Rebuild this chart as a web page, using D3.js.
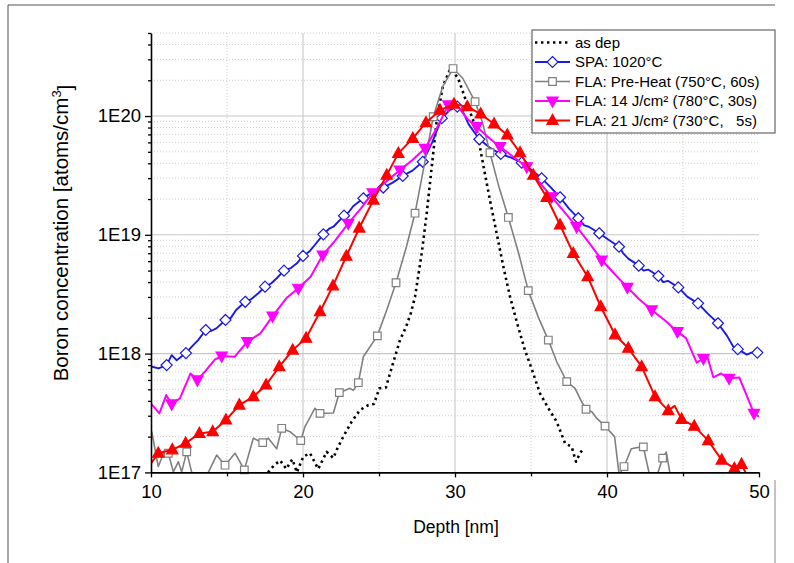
<!DOCTYPE html>
<html><head><meta charset="utf-8">
<script src="https://cdn.jsdelivr.net/npm/d3@7"></script>
<style>
body{margin:0;background:#fff}
svg{display:block;font-family:Arial,"Liberation Sans",sans-serif}
</style>
</head><body>
<svg id="c" width="794" height="563"></svg>
<script>
// ---------------- DATA ----------------
const xMajorTicks = [10, 20, 30, 40, 50];
const xMinorTicks = [15, 25, 35, 45];
const yMajorTicks = [1e17, 1e18, 1e19, 1e20];
const yTickLabels = ["1E17", "1E18", "1E19", "1E20"];
const xDomain = [10, 50];
const yDomain = [1e17, 5e20];
const xTitle = "Depth [nm]";
const yTitle = "Boron concentration [atoms/cm";
const yTitleSup = "3";
const yTitleEnd = "]";
const seriesNames = ["as dep", "SPA: 1020°C", "FLA: Pre-Heat (750°C, 60s)",
  "FLA: 14 J/cm² (780°C, 30s)", "FLA: 21 J/cm² (730°C,   5s)"];

const asDep = [[17.7,1.0e17],[18.1,1.15e17],[18.5,1.26e17],[18.9,1.07e17],[19.3,1.29e17],[19.6,1.0e17],
 [20.02,1.36e17],[20.46,1.45e17],[21.0,1.07e17],[21.56,1.49e17],[22.0,1.32e17],[22.22,1.55e17],[22.65,2.0e17],
 [23.2,2.67e17],[23.75,3.35e17],[24.3,3.69e17],[24.67,3.77e17],[25.02,5.1e17],[25.46,5.2e17],[25.72,6.8e17],
 [26.05,9.4e17],[26.38,1.3e18],[26.78,1.68e18],[27.09,2.18e18],[27.37,3.01e18],[27.81,6.98e18],[28.14,1.52e19],
 [28.47,3.74e19],[28.8,9.25e19],[29.2,1.78e20],[29.7,2.51e20],[30.2,2.09e20],[30.8,1.26e20],[31.43,7.62e19],
 [31.88,3.74e19],[32.3,1.96e19],[32.74,1.03e19],[33.18,5.4e18],[33.62,3.01e18],[34.1,1.78e18],[34.6,1.07e18],
 [35.1,7.1e17],[35.59,4.63e17],[36.14,3.47e17],[36.69,2.67e17],[37.24,1.76e17],[37.68,1.64e17],[37.96,1.23e17],
 [38.22,1.45e17],[38.45,1.58e17]];

const spa = [[10.0,7.8e17],[10.5,7.5e17],[11.03,8.0e17],[11.36,9.7e17],[11.69,8.8e17],[12.3,1.01e18],[12.7,1.15e18],
 [13.1,1.3e18],[13.6,1.58e18],[13.95,1.55e18],[14.3,1.63e18],[14.9,1.92e18],[15.25,2.0e18],[15.6,2.33e18],
 [16.2,2.73e18],[16.6,2.88e18],[17.06,3.22e18],[17.5,3.66e18],[17.9,3.89e18],[18.27,4.31e18],[18.75,4.99e18],
 [19.2,5.25e18],[19.6,5.75e18],[20.0,6.64e18],[20.4,7.2e18],[20.67,7.9e18],[21.34,1.01e19],[21.7,1.12e19],
 [22.0,1.17e19],[22.7,1.45e19],[23.0,1.55e19],[23.3,1.74e19],[23.97,2.03e19],[24.6,2.29e19],[25.28,2.5e19],
 [25.9,2.75e19],[26.56,3.13e19],[27.2,3.47e19],[27.88,4.12e19],[28.5,6.0e19],[29.13,9.6e19],[29.65,1.12e20],
 [30.15,1.2e20],[30.5,1.1e20],[30.9,8.5e19],[31.6,6.37e19],[32.3,5.4e19],[33.01,4.79e19],[33.7,4.47e19],
 [34.39,4.05e19],[35.0,3.55e19],[35.7,2.99e19],[36.3,2.51e19],[36.91,2.07e19],[37.5,1.66e19],[38.11,1.38e19],
 [38.5,1.2e19],[38.8,1.17e19],[39.49,1.03e19],[40.1,9.1e18],[40.79,7.94e18],[41.1,6.9e18],[41.4,6.3e18],
 [42.09,5.5e18],[42.4,5.0e18],[42.7,5.1e18],[43.38,4.5e18],[43.7,4.0e18],[44.0,4.1e18],[44.69,3.61e18],
 [45.3,3.0e18],[45.99,2.65e18],[46.6,2.19e18],[47.3,1.8e18],[47.9,1.41e18],[48.3,1.15e18],[48.6,1.09e18],
 [49.2,9.8e17],[49.5,1.02e18],[49.89,1.02e18],[50.0,9.8e17]];
const spaMarkDepths = [11.03,12.3,13.6,14.9,16.2,17.5,18.75,20.0,21.34,22.7,23.97,25.28,26.56,27.88,29.13,30.15,
 31.6,33.01,34.39,35.7,36.91,38.11,39.49,40.79,42.09,43.38,44.69,45.99,47.3,48.6,49.89];

const preHeat = [[10.05,2.2e17],[10.48,1.12e17],[10.92,1.55e17],[11.14,1.45e17],[11.47,1.01e17],[11.8,1.23e17],
 [12.02,1.01e17],[12.35,1.49e17],[12.68,1.0e17],[13.0,8.5e16],[13.6,8.0e16],[13.77,1.0e17],[14.32,1.4e17],
 [14.87,1.15e17],[15.53,1.45e17],[16.14,1.05e17],[16.73,1.94e17],[17.35,1.78e17],[17.72,1.94e17],[18.27,1.58e17],
 [18.6,2.35e17],[19.14,2.2e17],[19.85,1.85e17],[20.13,2.43e17],[20.79,3.47e17],[21.12,3.14e17],[22.0,3.16e17],
 [22.39,4.69e17],[23.09,5.1e17],[23.31,4.9e17],[23.64,5.69e17],[23.97,9.4e17],[24.89,1.41e18],[25.51,2.33e18],
 [26.12,3.95e18],[26.8,7.9e18],[27.37,1.52e19],[28.0,4.0e19],[28.57,9.86e19],[29.2,1.78e20],[29.87,2.51e20],
 [30.5,2.09e20],[31.32,1.32e20],[31.8,8.9e19],[32.3,4.91e19],[32.9,2.51e19],[33.51,1.4e19],[34.2,6.9e18],
 [34.82,3.39e18],[35.5,2.0e18],[36.14,1.3e18],[36.7,8.5e17],[37.35,5.81e17],[37.9,5.1e17],[38.3,4.0e17],
 [38.62,3.4e17],[39.0,3.24e17],[39.3,2.88e17],[39.87,2.45e17],[40.5,2.0e17],[40.8,9.5e16],[41.12,1.12e17],
 [41.6,1.58e17],[42.0,1.62e17],[42.39,1.64e17],[42.8,9.5e16],[43.3,9.5e16],[43.66,1.32e17],[43.9,1.48e17],
 [44.2,8.9e16],[44.9,7.0e16]];
const preHeatMarkDepths = [11.14,12.35,13.6,14.87,16.14,17.35,18.6,19.85,21.12,22.39,23.64,24.89,26.12,27.37,
 28.57,29.87,31.32,32.3,33.51,34.82,36.14,37.35,38.62,39.87,41.12,42.39,43.66,44.9];

const fla14 = [[10.0,3.8e17],[10.55,3.14e17],[11.0,4.47e17],[11.36,3.77e17],[11.9,4.2e17],[12.6,6.8e17],[13.05,6.0e17],
 [13.6,7.2e17],[14.2,8.9e17],[14.65,9.55e17],[15.5,9.4e17],[16.34,1.26e18],[17.2,1.48e18],[18.0,2.07e18],
 [18.9,2.92e18],[19.69,3.55e18],[20.5,4.44e18],[21.3,6.76e18],[22.1,8.9e18],[22.98,1.25e19],[23.8,1.66e19],
 [24.59,2.26e19],[25.5,2.82e19],[26.38,3.51e19],[27.2,4.27e19],[28.03,5.35e19],[28.8,7.9e19],[29.56,1.24e20],
 [30.2,1.2e20],[30.8,9.5e19],[31.43,8.13e19],[32.2,6.6e19],[32.96,5.52e19],[33.8,4.57e19],[34.72,3.74e19],
 [35.5,2.82e19],[36.36,2.09e19],[37.2,1.55e19],[38.0,1.17e19],[38.9,8.3e18],[39.65,6.14e18],[40.5,4.68e18],
 [41.34,3.61e18],[42.1,2.88e18],[42.94,2.33e18],[43.8,1.91e18],[44.63,1.53e18],[45.2,1.35e18],[45.9,8.4e17],
 [46.34,9.1e17],[46.6,9.4e17],[47.0,6.3e17],[47.5,6.8e17],[48.03,6.19e17],[48.7,6.3e17],[49.67,3.14e17],[50.0,2.95e17]];
const fla14MarkDepths = [11.36,13.05,14.65,16.34,18.0,19.69,21.3,22.98,24.59,26.38,28.03,29.56,31.43,32.96,34.72,
 36.36,38.0,39.65,41.34,42.94,44.63,46.34,48.03,49.67];

const fla21 = [[10.0,1.19e17],[10.48,1.45e17],[11.4,1.55e17],[12.28,1.76e17],[13.18,2.13e17],[14.06,2.2e17],
 [14.93,2.76e17],[15.81,3.69e17],[16.73,4.34e17],[17.57,5.44e17],[18.44,7.76e17],[19.32,1.07e18],[20.2,1.35e18],
 [21.12,2.25e18],[21.97,3.72e18],[22.85,6.6e18],[23.7,1.14e19],[24.63,1.96e19],[25.51,3.18e19],[26.27,4.85e19],
 [27.22,6.49e19],[28.09,8.79e19],[29.01,1.12e20],[29.93,1.26e20],[30.81,1.2e20],[31.69,1.04e20],[32.57,8.57e19],
 [33.44,6.92e19],[34.28,4.91e19],[35.15,3.18e19],[36.03,2.07e19],[36.91,1.21e19],[37.78,6.98e18],[38.73,4.44e18],
 [39.59,2.48e18],[40.53,1.44e18],[41.4,1.11e18],[42.28,7.76e17],[43.16,4.34e17],[44.03,3.31e17],[44.45,3.63e17],
 [44.91,2.8e17],[45.74,2.45e17],[46.66,1.85e17],[47.55,1.27e17],[48.38,1.08e17],[48.85,1.17e17],[49.3,8.9e16]];
const fla21MarkDepths = [10.48,11.4,12.28,13.18,14.06,14.93,15.81,16.73,17.57,18.44,19.32,20.2,21.12,21.97,22.85,
 23.7,24.63,25.51,26.27,27.22,28.09,29.01,29.93,30.81,31.69,32.57,33.44,34.28,35.15,36.03,36.91,37.78,38.73,
 39.59,40.53,41.4,42.28,43.16,44.03,44.91,45.74,46.66,47.55,48.38,48.85];

// ---------------- DRAWING ----------------
const svg = d3.select("#c");
const L = 151, R = 759, T = 33, B = 472.4;
const x = d3.scaleLinear().domain(xDomain).range([L, R]);
const y = d3.scaleLog().domain(yDomain).range([B, T]);

// outer frame (screenshot border)
svg.append("path").attr("d", "M8,563V5H775").attr("fill", "none").attr("stroke", "#555").attr("stroke-width", 1);
svg.append("path").attr("d", "M775,480V563").attr("fill", "none").attr("stroke", "#888").attr("stroke-width", 1);

// minor y values
const yMinor = [];
for (let e = 17; e <= 20; e++) for (let k = 2; k <= 9; k++) { const v = k * Math.pow(10, e); if (v <= yDomain[1]) yMinor.push(v); }

const grid = svg.append("g");
grid.selectAll(".hm").data(yMinor).enter().append("line")
  .attr("x1", L).attr("x2", R).attr("y1", d => y(d)).attr("y2", d => y(d))
  .attr("stroke", "#cfcfcf").attr("stroke-width", 1).attr("stroke-dasharray", "1,2");
grid.selectAll(".vm").data(xMinorTicks).enter().append("line")
  .attr("y1", T).attr("y2", B).attr("x1", d => x(d)).attr("x2", d => x(d))
  .attr("stroke", "#cfcfcf").attr("stroke-width", 1).attr("stroke-dasharray", "1,2");
grid.selectAll(".hM").data(yMajorTicks.slice(1)).enter().append("line")
  .attr("x1", L).attr("x2", R).attr("y1", d => y(d)).attr("y2", d => y(d))
  .attr("stroke", "#c8c8c8").attr("stroke-width", 1.1);
grid.selectAll(".vM").data(xMajorTicks.slice(1, -1)).enter().append("line")
  .attr("y1", T).attr("y2", B).attr("x1", d => x(d)).attr("x2", d => x(d))
  .attr("stroke", "#c8c8c8").attr("stroke-width", 1.1);

// clip
svg.append("clipPath").attr("id", "clip").append("rect")
  .attr("x", L).attr("y", T - 10).attr("width", R - L).attr("height", B - T + 10);

const line = d3.line().x(d => x(d[0])).y(d => y(d[1]));

const mk = {
  diamond: "M0,-5.5L5.5,0L0,5.5L-5.5,0Z",
  square: "M-3.8,-3.8h7.6v7.6h-7.6Z",
  up: "M0,-6.2L5.6,4L-5.6,4Z",
  down: "M0,6.2L5.6,-4L-5.6,-4Z"
};

const series = [
  { data: asDep, marks: [], color: "#000", width: 2.6, dash: "2.4,3.6", shape: null },
  { data: spa, marks: spaMarkDepths, color: "#1a1ae6", width: 1.9, dash: null, shape: "diamond", fill: "#fff" },
  { data: preHeat, marks: preHeatMarkDepths, color: "#808080", width: 1.6, dash: null, shape: "square", fill: "#fff" },
  { data: fla14, marks: fla14MarkDepths, color: "#ff00ff", width: 2, dash: null, shape: "down", fill: "#ff00ff" },
  { data: fla21, marks: fla21MarkDepths, color: "#ff0000", width: 2, dash: null, shape: "up", fill: "#ff0000" }
];

const plot = svg.append("g");
series.forEach(s => {
  plot.append("path").datum(s.data).attr("d", line).attr("clip-path", "url(#clip)")
    .attr("fill", "none").attr("stroke", s.color).attr("stroke-width", s.width)
    .attr("stroke-linejoin", "round").attr("stroke-dasharray", s.dash);
  if (s.shape) {
    const pts = s.data.filter(p => s.marks.includes(p[0]) && p[1] >= yDomain[0]);
    plot.selectAll(null).data(pts).enter().append("path")
      .attr("d", mk[s.shape])
      .attr("transform", p => `translate(${x(p[0])},${y(p[1])})`)
      .attr("fill", s.fill).attr("stroke", s.color).attr("stroke-width", 1.2);
  }
});

// axes
const fs = "18.5px";
svg.append("g").attr("transform", `translate(0,${B})`)
  .call(d3.axisBottom(x).tickValues(xMajorTicks).tickSize(5).tickSizeOuter(0).tickPadding(7).tickFormat(d3.format("d")));
svg.append("g").attr("transform", `translate(0,${B})`)
  .call(d3.axisBottom(x).tickValues(xMinorTicks).tickSize(4).tickSizeOuter(0).tickFormat(""))
  .select(".domain").remove();
svg.append("g").attr("transform", `translate(${L},0)`)
  .call(d3.axisLeft(y).tickValues(yMajorTicks).tickSize(6).tickSizeOuter(0).tickPadding(4)
    .tickFormat((d, i) => yTickLabels[i]));
svg.append("g").attr("transform", `translate(${L},0)`)
  .call(d3.axisLeft(y).tickValues(yMinor).tickSize(3).tickSizeOuter(0).tickFormat(""))
  .select(".domain").remove();
svg.selectAll(".domain").attr("stroke", "#000").attr("stroke-width", 1.6);
svg.selectAll(".tick line").attr("stroke", "#000").attr("stroke-width", 1.3);
svg.selectAll(".tick text").attr("font-size", fs).attr("fill", "#000")
  .attr("font-family", "Arial, 'Liberation Sans', sans-serif");

// titles
svg.append("text").attr("x", (L + R) / 2 + 1).attr("y", 533).attr("text-anchor", "middle")
  .attr("font-size", "17.5px").text(xTitle);
const yt = svg.append("text").attr("transform", "translate(68,233) rotate(-90)")
  .attr("text-anchor", "middle").attr("font-size", "20.5px");
yt.append("tspan").text(yTitle);
yt.append("tspan").attr("dy", "-0.55em").attr("font-size", "13px").text(yTitleSup);
yt.append("tspan").attr("dy", "0.55em").text(yTitleEnd);

// legend
const lg = svg.append("g");
lg.append("rect").attr("x", 532).attr("y", 30).attr("width", 243).attr("height", 103)
  .attr("fill", "#fff").attr("stroke", "#666").attr("stroke-width", 1.2);
const rowY = [42.5, 62, 81.5, 101, 120.5];
series.forEach((s, i) => {
  const g = lg.append("g").attr("transform", `translate(0,${rowY[i]})`);
  g.append("line").attr("x1", 535).attr("x2", 570).attr("y1", 0).attr("y2", 0)
    .attr("stroke", s.color).attr("stroke-width", s.width).attr("stroke-dasharray", s.dash);
  if (s.shape) g.append("path").attr("d", mk[s.shape]).attr("transform", "translate(552.5,0)")
    .attr("fill", s.fill).attr("stroke", s.color).attr("stroke-width", 1.2);
  g.append("text").attr("x", 575).attr("y", 5.4).attr("font-size", "15px")
    .style("white-space", "pre").text(seriesNames[i]);
});
</script>
</body></html>
